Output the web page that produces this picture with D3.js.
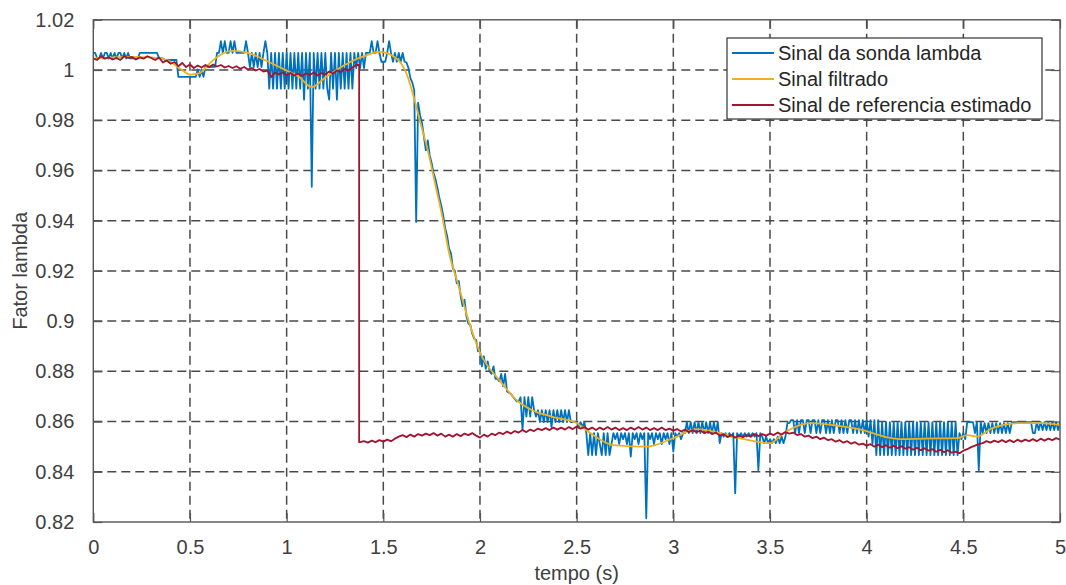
<!DOCTYPE html>
<html>
<head>
<meta charset="utf-8">
<script src="https://cdn.jsdelivr.net/npm/d3@7"></script>
<style>
  html, body { margin: 0; padding: 0; background: #fff; }
  svg { display: block; font-family: "Liberation Sans", Arial, sans-serif; }
</style>
</head>
<body>
<svg id="chart" width="1066" height="585"></svg>
<script>
// Axis ticks and labels
const xTicks = [0, 0.5, 1, 1.5, 2, 2.5, 3, 3.5, 4, 4.5, 5];
const xTickLabels = ["0", "0.5", "1", "1.5", "2", "2.5", "3", "3.5", "4", "4.5", "5"];
const yTicks = [0.82, 0.84, 0.86, 0.88, 0.9, 0.92, 0.94, 0.96, 0.98, 1, 1.02];
const yTickLabels = ["0.82", "0.84", "0.86", "0.88", "0.9", "0.92", "0.94", "0.96", "0.98", "1", "1.02"];

const seriesNames = ["Sinal da sonda lambda", "Sinal filtrado", "Sinal de referencia estimado"];

// Lambda probe signal, sampled every 0.01 s from 0 to 5 s
const probeSignal = [
  1.0068,1.0068,1.0046,1.0046,1.0068,1.0046,1.0068,1.0068,1.0046,1.0068,
  1.0046,1.0068,1.0046,1.0068,1.0068,1.0046,1.0068,1.0046,1.0068,1.0046,
  1.0046,1.0046,1.0046,1.0046,1.0068,1.0068,1.0068,1.0068,1.0068,1.0068,
  1.0068,1.0068,1.0068,1.0068,1.0046,1.0046,1.0046,1.0040,1.0040,1.0040,
  1.0040,1.0040,1.0040,1.0040,0.9973,0.9973,0.9973,0.9973,0.9973,0.9973,
  0.9973,0.9973,0.9973,0.9973,1.0002,0.9973,1.0002,0.9973,1.0013,1.0013,
  1.0013,1.0013,1.0013,1.0013,1.0068,1.0068,1.0115,1.0068,1.0115,1.0068,
  1.0068,1.0115,1.0068,1.0115,1.0068,1.0068,1.0068,1.0068,1.0068,1.0115,
  1.0068,1.0012,1.0068,1.0012,1.0068,1.0012,1.0068,1.0012,1.0068,1.0115,
  1.0068,0.9926,1.0068,0.9926,1.0068,0.9926,1.0068,0.9926,1.0068,0.9926,
  1.0068,0.9926,1.0068,0.9926,1.0068,0.9926,1.0068,0.9926,1.0068,0.9882,
  1.0068,0.9926,1.0068,0.9535,1.0068,0.9926,1.0068,0.9926,1.0068,0.9926,
  1.0068,0.9926,0.9882,1.0068,0.9926,1.0068,0.9882,1.0068,0.9926,1.0068,
  0.9926,1.0068,0.9926,1.0068,0.9926,1.0068,1.0008,1.0068,1.0008,1.0068,
  1.0008,1.0068,1.0068,1.0068,1.0115,1.0068,1.0068,1.0115,1.0068,1.0033,
  1.0033,1.0033,1.0068,1.0115,1.0068,1.0033,1.0068,1.0033,1.0068,1.0033,
  1.0068,1.0033,1.0030,1.0008,0.9968,0.9950,0.9920,0.9395,0.9870,0.9820,
  0.9790,0.9735,0.9680,0.9720,0.9660,0.9630,0.9590,0.9565,0.9530,0.9490,
  0.9460,0.9420,0.9370,0.9340,0.9290,0.9270,0.9210,0.9200,0.9150,0.9160,
  0.9100,0.9060,0.9085,0.9020,0.8990,0.8985,0.8950,0.8930,0.8925,0.8880,
  0.8884,0.8820,0.8860,0.8810,0.8840,0.8800,0.8790,0.8820,0.8770,0.8770,
  0.8760,0.8790,0.8740,0.8790,0.8720,0.8715,0.8710,0.8700,0.8690,0.8680,
  0.8680,0.8697,0.8566,0.8697,0.8620,0.8697,0.8620,0.8697,0.8645,0.8620,
  0.8645,0.8598,0.8645,0.8598,0.8645,0.8598,0.8645,0.8578,0.8645,0.8598,
  0.8645,0.8598,0.8645,0.8598,0.8645,0.8598,0.8645,0.8598,0.8598,0.8598,
  0.8598,0.8578,0.8598,0.8578,0.8598,0.8554,0.8466,0.8554,0.8466,0.8554,
  0.8466,0.8554,0.8510,0.8466,0.8554,0.8466,0.8554,0.8466,0.8510,0.8554,
  0.8530,0.8554,0.8510,0.8554,0.8530,0.8554,0.8510,0.8554,0.8460,0.8554,
  0.8530,0.8554,0.8510,0.8554,0.8530,0.8554,0.8215,0.8554,0.8530,0.8554,
  0.8510,0.8554,0.8530,0.8554,0.8510,0.8554,0.8530,0.8554,0.8510,0.8554,
  0.8480,0.8554,0.8540,0.8554,0.8530,0.8554,0.8554,0.8598,0.8554,0.8598,
  0.8554,0.8598,0.8554,0.8598,0.8554,0.8598,0.8554,0.8598,0.8554,0.8598,
  0.8554,0.8598,0.8554,0.8598,0.8514,0.8554,0.8540,0.8554,0.8540,0.8554,
  0.8540,0.8554,0.8315,0.8554,0.8540,0.8554,0.8540,0.8554,0.8540,0.8554,
  0.8540,0.8554,0.8540,0.8554,0.8406,0.8554,0.8540,0.8514,0.8540,0.8514,
  0.8530,0.8514,0.8530,0.8514,0.8540,0.8514,0.8540,0.8514,0.8540,0.8594,
  0.8594,0.8606,0.8606,0.8554,0.8606,0.8554,0.8606,0.8606,0.8554,0.8606,
  0.8606,0.8554,0.8606,0.8606,0.8554,0.8606,0.8554,0.8606,0.8606,0.8554,
  0.8606,0.8554,0.8606,0.8554,0.8606,0.8606,0.8554,0.8606,0.8554,0.8606,
  0.8554,0.8606,0.8606,0.8554,0.8606,0.8554,0.8606,0.8554,0.8606,0.8554,
  0.8606,0.8540,0.8606,0.8510,0.8606,0.8466,0.8606,0.8466,0.8598,0.8466,
  0.8598,0.8466,0.8598,0.8466,0.8598,0.8466,0.8598,0.8466,0.8598,0.8466,
  0.8598,0.8466,0.8598,0.8466,0.8598,0.8466,0.8598,0.8466,0.8598,0.8466,
  0.8598,0.8466,0.8598,0.8466,0.8598,0.8466,0.8598,0.8466,0.8598,0.8466,
  0.8598,0.8466,0.8598,0.8466,0.8598,0.8466,0.8598,0.8466,0.8554,0.8530,
  0.8554,0.8530,0.8598,0.8598,0.8598,0.8598,0.8554,0.8598,0.8406,0.8598,
  0.8554,0.8594,0.8554,0.8594,0.8554,0.8594,0.8554,0.8594,0.8554,0.8594,
  0.8554,0.8594,0.8554,0.8594,0.8554,0.8594,0.8598,0.8598,0.8598,0.8598,
  0.8598,0.8598,0.8598,0.8598,0.8598,0.8598,0.8554,0.8554,0.8598,0.8566,
  0.8598,0.8566,0.8598,0.8566,0.8598,0.8566,0.8598,0.8566,0.8598,0.8566,
  0.8598
];
const probeStart = 0, probeEnd = 5;

// Filtered signal, key samples (time in s, value)
const filteredTime = [0, 0.1, 0.2, 0.3, 0.38, 0.45, 0.5, 0.55, 0.6, 0.66, 0.72, 0.8, 0.9, 1.0, 1.06, 1.13, 1.2, 1.3, 1.4, 1.48,
  1.57, 1.62, 1.655, 1.69, 1.73, 1.77, 1.8, 1.845, 1.88, 1.95, 2.0, 2.1, 2.19, 2.27, 2.38, 2.5, 2.57, 2.69, 2.86, 3.0,
  3.12, 3.22, 3.34, 3.5, 3.57, 3.71, 3.86, 3.98, 4.1, 4.17, 4.3, 4.47, 4.52, 4.57, 4.65, 4.79, 4.9, 5.0];
const filteredValue = [1.0045, 1.0050, 1.0052, 1.0050, 1.0040, 1.0005, 0.9982, 0.9988, 1.0025, 1.0062, 1.0076, 1.0068, 1.0035, 0.9998, 0.9975, 0.9932, 0.9970, 1.0020, 1.0055, 1.0072,
  1.0045, 0.9985, 0.9900, 0.9795, 0.9680, 0.9540, 0.9435, 0.9255, 0.9165, 0.8980, 0.8875, 0.8765, 0.8685, 0.8645, 0.8618, 0.8594, 0.8554, 0.8506, 0.8500, 0.8534,
  0.8570, 0.8558, 0.8534, 0.8514, 0.8554, 0.8594, 0.8582, 0.8566, 0.8538, 0.8530, 0.8532, 0.8534, 0.8546, 0.8540, 0.8574, 0.8594, 0.8594, 0.8586];

// Estimated reference signal: every 0.02 s before the step, and after it
const referenceBefore = [
  1.0045, 1.0040, 1.0055, 1.0045, 1.0050, 1.0042, 1.0048, 1.0040, 1.0055, 1.0048,
  1.0052, 1.0042, 1.0050, 1.0045, 1.0055, 1.0048, 1.0040, 1.0050, 1.0030, 1.0038,
  1.0025, 1.0032, 1.0015, 1.0028, 1.0012, 1.0022, 1.0008, 1.0018, 1.0010, 1.0020,
  1.0012, 1.0022, 1.0014, 1.0020, 1.0010, 1.0016, 1.0008, 1.0015, 1.0005, 1.0012,
  1.0002, 1.0008, 0.9998, 1.0004, 0.9994, 0.9998, 0.9972, 0.9990, 0.9982, 0.9990,
  0.9980, 0.9988, 0.9978, 0.9986, 0.9976, 0.9986, 0.9980, 0.9990, 0.9978, 0.9988,
  0.9982, 0.9994, 0.9986, 0.9998, 0.9992, 1.0004, 0.9998, 1.0010, 1.0020
];
const referenceBeforeStart = 0, referenceBeforeEnd = 1.36;
const referenceStepTime = 1.375;
const referenceAfter = [
  0.8518, 0.8522, 0.8516, 0.8524, 0.8518, 0.8526, 0.8520, 0.8528, 0.8522, 0.8532,
  0.8540, 0.8546, 0.8538, 0.8548, 0.8540, 0.8550, 0.8544, 0.8552, 0.8546, 0.8554,
  0.8544, 0.8552, 0.8540, 0.8548, 0.8540, 0.8550, 0.8542, 0.8552, 0.8546, 0.8554,
  0.8544, 0.8536, 0.8548, 0.8540, 0.8552, 0.8546, 0.8556, 0.8550, 0.8560, 0.8552,
  0.8562, 0.8556, 0.8566, 0.8558, 0.8568, 0.8562, 0.8572, 0.8566, 0.8574, 0.8566,
  0.8576, 0.8568, 0.8576, 0.8568, 0.8578, 0.8570, 0.8580, 0.8572, 0.8578, 0.8568,
  0.8576, 0.8566, 0.8576, 0.8568, 0.8578, 0.8568, 0.8576, 0.8566, 0.8574, 0.8566,
  0.8576, 0.8568, 0.8578, 0.8568, 0.8576, 0.8566, 0.8574, 0.8566, 0.8576, 0.8566,
  0.8572, 0.8564, 0.8570, 0.8560, 0.8568, 0.8558, 0.8566, 0.8558, 0.8564, 0.8554,
  0.8560, 0.8550, 0.8556, 0.8544, 0.8550, 0.8538, 0.8546, 0.8536, 0.8544, 0.8538,
  0.8546, 0.8540, 0.8550, 0.8542, 0.8550, 0.8544, 0.8552, 0.8546, 0.8556, 0.8548,
  0.8558, 0.8552, 0.8556, 0.8546, 0.8550, 0.8540, 0.8544, 0.8534, 0.8540, 0.8530,
  0.8536, 0.8526, 0.8530, 0.8520, 0.8526, 0.8516, 0.8522, 0.8512, 0.8518, 0.8508,
  0.8512, 0.8504, 0.8510, 0.8500, 0.8508, 0.8498, 0.8506, 0.8496, 0.8504, 0.8494,
  0.8502, 0.8492, 0.8498, 0.8488, 0.8496, 0.8486, 0.8494, 0.8484, 0.8490, 0.8480,
  0.8488, 0.8478, 0.8486, 0.8476, 0.8480, 0.8474, 0.8484, 0.8490, 0.8498, 0.8504,
  0.8510, 0.8514, 0.8522, 0.8516, 0.8524, 0.8518, 0.8526, 0.8518, 0.8526, 0.8518,
  0.8528, 0.8520, 0.8528, 0.8522, 0.8530, 0.8522, 0.8532, 0.8524, 0.8532, 0.8526,
  0.8534, 0.8528
];
const referenceAfterStart = 1.38, referenceAfterEnd = 5;

const colors = ["#0072BD", "#EDB120", "#A2142F"];

// Layout
const W = 1066, H = 585;
const plot = { left: 93.3, right: 1060, top: 19.8, bottom: 522 };
const textColor = "#404040";
const axisColor = "#555555";

const svg = d3.select("#chart");
const x = d3.scaleLinear().domain([0, 5]).range([plot.left, plot.right]);
const y = d3.scaleLinear().domain([0.82, 1.02]).range([plot.bottom, plot.top]);

// Build point lists on the sampling grids
function grid(values, t0, t1) {
  const n = values.length;
  return values.map((v, i) => ({ t: t0 + (t1 - t0) * i / (n - 1), v }));
}
const probePts = grid(probeSignal, probeStart, probeEnd);
const filteredPts = filteredTime.map((t, i) => ({ t, v: filteredValue[i] }));
const refBeforePts = grid(referenceBefore, referenceBeforeStart, referenceBeforeEnd);
const refAfterPts = grid(referenceAfter, referenceAfterStart, referenceAfterEnd);
const refPts = refBeforePts
  .concat([{ t: referenceStepTime, v: referenceBefore[referenceBefore.length - 1] },
           { t: referenceStepTime, v: referenceAfter[0] }])
  .concat(refAfterPts);

// Dashed grid
const gridG = svg.append("g");
gridG.selectAll("line.gx").data(xTicks.slice(1, -1)).join("line")
  .attr("x1", d => x(d)).attr("x2", d => x(d))
  .attr("y1", plot.top).attr("y2", plot.bottom)
  .attr("stroke", "#4a4a4a").attr("stroke-width", 1.5).attr("stroke-dasharray", "9,5");
gridG.selectAll("line.gy").data(yTicks.slice(1, -1)).join("line")
  .attr("x1", plot.left).attr("x2", plot.right)
  .attr("y1", d => y(d)).attr("y2", d => y(d))
  .attr("stroke", "#4a4a4a").attr("stroke-width", 1.5).attr("stroke-dasharray", "9,5");

// Series
const clip = svg.append("clipPath").attr("id", "plotclip").append("rect")
  .attr("x", plot.left).attr("y", plot.top)
  .attr("width", plot.right - plot.left).attr("height", plot.bottom - plot.top);
const lineGen = d3.line().x(d => x(d.t)).y(d => y(d.v));
const smoothGen = d3.line().x(d => x(d.t)).y(d => y(d.v)).curve(d3.curveMonotoneX);
const seriesG = svg.append("g").attr("clip-path", "url(#plotclip)");
seriesG.append("path").datum(probePts).attr("d", lineGen)
  .attr("fill", "none").attr("stroke", colors[0]).attr("stroke-width", 1.8).attr("stroke-linejoin", "round");
seriesG.append("path").datum(filteredPts).attr("d", smoothGen)
  .attr("fill", "none").attr("stroke", colors[1]).attr("stroke-width", 1.8);
seriesG.append("path").datum(refPts).attr("d", lineGen)
  .attr("fill", "none").attr("stroke", colors[2]).attr("stroke-width", 1.8).attr("stroke-linejoin", "round");

// Axes with inward ticks on all four sides
function styleAxis(g) {
  g.select(".domain").remove();
  g.selectAll(".tick line").attr("stroke", axisColor).attr("stroke-width", 1.2);
  g.selectAll(".tick text").attr("fill", textColor)
    .style("font-family", "'Liberation Sans', Arial, sans-serif").style("font-size", "20px");
}
const xAxis = d3.axisBottom(x).tickValues(xTicks).tickFormat((d, i) => xTickLabels[i]).tickSizeInner(-9).tickSizeOuter(0).tickPadding(18);
svg.append("g").attr("transform", `translate(0,${plot.bottom})`).call(xAxis).call(styleAxis);
const yAxis = d3.axisLeft(y).tickValues(yTicks).tickFormat((d, i) => yTickLabels[i]).tickSizeInner(-9).tickSizeOuter(0).tickPadding(19);
svg.append("g").attr("transform", `translate(${plot.left},0)`).call(yAxis).call(styleAxis);
const xTop = d3.axisTop(x).tickValues(xTicks).tickFormat("").tickSizeInner(-9).tickSizeOuter(0);
svg.append("g").attr("transform", `translate(0,${plot.top})`).call(xTop).call(styleAxis);
const yRight = d3.axisRight(y).tickValues(yTicks).tickFormat("").tickSizeInner(-9).tickSizeOuter(0);
svg.append("g").attr("transform", `translate(${plot.right},0)`).call(yRight).call(styleAxis);

// Plot box
svg.append("rect")
  .attr("x", plot.left).attr("y", plot.top)
  .attr("width", plot.right - plot.left).attr("height", plot.bottom - plot.top)
  .attr("fill", "none").attr("stroke", axisColor).attr("stroke-width", 1.4);

// Axis titles
svg.append("text").attr("x", (plot.left + plot.right) / 2).attr("y", 580)
  .attr("text-anchor", "middle").attr("fill", textColor)
  .style("font-size", "20px").text("tempo (s)");
svg.append("text").attr("transform", `translate(27,${(plot.top + plot.bottom) / 2}) rotate(-90)`)
  .attr("text-anchor", "middle").attr("fill", textColor)
  .style("font-size", "20px").text("Fator lambda");

// Legend
const legend = { x: 727, y: 38, w: 315, h: 81 };
const lg = svg.append("g");
lg.append("rect").attr("x", legend.x).attr("y", legend.y)
  .attr("width", legend.w).attr("height", legend.h)
  .attr("fill", "#fff").attr("stroke", "#333").attr("stroke-width", 1.2);
const rows = lg.selectAll("g.row").data(seriesNames).join("g")
  .attr("transform", (d, i) => `translate(${legend.x},${legend.y + 15 + i * 26})`);
rows.append("line").attr("x1", 5).attr("x2", 47).attr("y1", 0).attr("y2", 0)
  .attr("stroke", (d, i) => colors[i]).attr("stroke-width", 1.8);
rows.append("text").attr("x", 51).attr("y", 7).attr("fill", "#262626")
  .style("font-size", "20px").text(d => d);
</script>
</body>
</html>
